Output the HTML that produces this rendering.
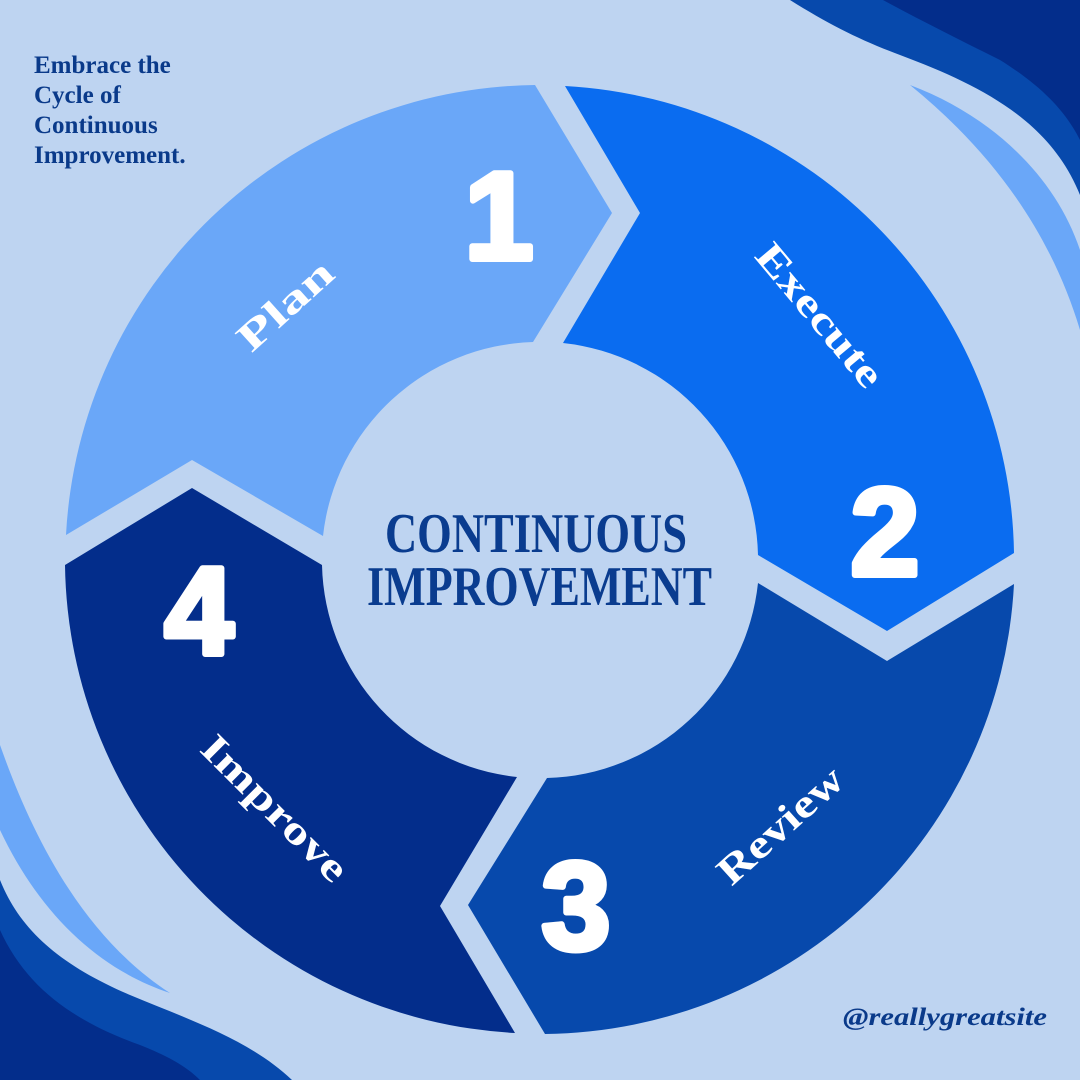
<!DOCTYPE html>
<html><head><meta charset="utf-8"><style>
html,body{margin:0;padding:0;background:#bed4f1;}
svg{display:block;}
</style></head><body>
<svg width="1080" height="1080" viewBox="0 0 1080 1080" xmlns="http://www.w3.org/2000/svg">
<rect width="1080" height="1080" fill="#bed4f1"/>
<path d="M790,0 C830,25 860,40 900,55 C980,85 1050,120 1080,195 L1080,0 Z" fill="#0749ac"/>
<path d="M883,0 C920,20 960,40 1000,60 C1040,85 1065,110 1080,140 L1080,0 Z" fill="#032d8b"/>
<path d="M910,85 C990,115 1055,175 1080,250 L1080,330 C1050,230 990,150 910,85 Z" fill="#6aa7f8"/>
<path d="M0,880 C20,930 60,965 130,995 C190,1020 250,1040 292,1080 L0,1080 Z" fill="#0749ac"/>
<path d="M0,930 C25,985 70,1020 140,1045 C165,1055 185,1065 200,1080 L0,1080 Z" fill="#032d8b"/>
<path d="M0,745 C30,830 80,935 170,993 C100,970 40,915 0,830 Z" fill="#6aa7f8"/>
<path d="M66,535 A475,475 0 0 1 535,85 L612,213 L533,342 A218,218 0 0 0 323,536 L192,460 Z" fill="#6aa7f8"/>
<path d="M565,86 A475,475 0 0 1 1014,553 L887,631 L758,555 A218,218 0 0 0 563,343 L640,213 Z" fill="#0a6cf0"/>
<path d="M1014,584 A475,475 0 0 1 545,1034 L468,905 L547,778 A218,218 0 0 0 758,583 L887,661 Z" fill="#0749ac"/>
<path d="M515,1033 A475,475 0 0 1 65,565 L192,488 L322,565 A218,218 0 0 0 517,777 L440,906 Z" fill="#032d8b"/>
<g font-family="Liberation Sans, sans-serif" font-weight="bold" font-size="124" fill="#fff" stroke="#fff" stroke-width="6" stroke-linejoin="round" text-anchor="middle">
<text x="499" y="259">1</text>
<text x="885" y="575">2</text>
<text x="576" y="949">3</text>
<text x="199" y="654">4</text>
</g>
<g font-family="Liberation Serif, serif" font-weight="bold" font-size="40" fill="#fff" text-anchor="middle" dominant-baseline="central">
<text transform="translate(285,305) rotate(-42)" textLength="115" lengthAdjust="spacingAndGlyphs">Plan</text>
<text transform="translate(820,315) rotate(50)" textLength="175" lengthAdjust="spacingAndGlyphs">Execute</text>
<text transform="translate(780,825) rotate(-42)" textLength="155" lengthAdjust="spacingAndGlyphs">Review</text>
<text transform="translate(275,808) rotate(45)" textLength="190" lengthAdjust="spacingAndGlyphs">Improve</text>
</g>
<g font-family="Liberation Serif, serif" font-weight="bold" font-size="56" fill="#0a3c8f">
<text x="385" y="552" textLength="302" lengthAdjust="spacingAndGlyphs">CONTINUOUS</text>
<text x="367" y="605" textLength="345" lengthAdjust="spacingAndGlyphs">IMPROVEMENT</text>
</g>
<g font-family="Liberation Serif, serif" font-weight="bold" font-size="25" fill="#0a3a8a">
<text x="34" y="73">Embrace the</text>
<text x="34" y="103">Cycle of</text>
<text x="34" y="133">Continuous</text>
<text x="34" y="163">Improvement.</text>
</g>
<text x="843" y="1025" font-family="Liberation Serif, serif" font-weight="bold" font-style="italic" font-size="25" fill="#0a3a8a" textLength="204" lengthAdjust="spacingAndGlyphs">@reallygreatsite</text>
</svg>
</body></html>
